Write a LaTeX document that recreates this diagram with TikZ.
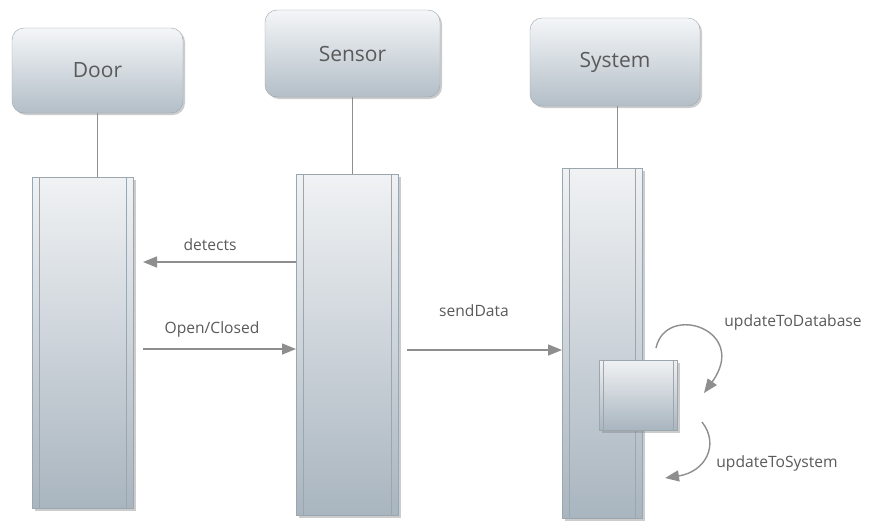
\documentclass[tikz,border=0pt]{standalone}
\usepackage{fontspec}
\setmainfont{Open Sans}
\usetikzlibrary{arrows.meta,shadows}
\definecolor{boxedge}{HTML}{9BA6AE}
\definecolor{boxtop}{HTML}{F4F6F8}
\definecolor{boxbottom}{HTML}{B3BEC7}
\definecolor{bartop}{HTML}{F0F2F4}
\definecolor{barbottom}{HTML}{A9B5BF}
\definecolor{linegray}{HTML}{8E8E8E}
\definecolor{txtgray}{HTML}{5A5A5A}
\begin{document}
\begin{tikzpicture}[x=1pt,y=-1pt,
    head/.style={draw=boxedge, rounded corners=12pt, outer sep=0pt,
        top color=boxtop, bottom color=boxbottom,
        drop shadow={shadow xshift=2pt, shadow yshift=-2pt, opacity=0.4},
        text=txtgray, font=\fontsize{21}{24}\selectfont},
    bar/.style={draw=boxedge, outer sep=0pt, inner sep=0pt,
        top color=bartop, bottom color=barbottom,
        drop shadow={shadow xshift=3pt, shadow yshift=-3pt, opacity=0.4},
        path picture={\draw[boxedge, line width=0.8pt]
            ([xshift=#1]path picture bounding box.north west) -- ([xshift=#1]path picture bounding box.south west)
            ([xshift=-#1]path picture bounding box.north east) -- ([xshift=-#1]path picture bounding box.south east);}},
    bar/.default=7pt,
    life/.style={draw=linegray, line width=0.9pt},
    msg/.style={draw=linegray, line width=1.4pt, -{Triangle[length=14pt,width=11pt]}},
    lbl/.style={text=txtgray, font=\fontsize{15.6}{18}\selectfont}]
    \useasboundingbox[fill=white] (0,0) rectangle (874,523);
    %% heads
    \node[head, minimum width=171pt, minimum height=85pt] (door) at (97.5,70.5) {Door};
    \node[head, minimum width=175pt, minimum height=87pt] (sensor) at (352.5,53.5) {Sensor};
    \node[head, minimum width=170pt, minimum height=88pt] (system) at (615,62) {System};
    %% activation bars
    \node[bar, minimum width=101pt, minimum height=331pt] (doorbar) at (82.5,342.5) {};
    \node[bar, minimum width=102pt, minimum height=341pt] (sensorbar) at (347,344.5) {};
    \node[bar, minimum width=80pt, minimum height=350pt] (systembar) at (602,343) {};
    \node[bar=4pt, minimum width=78pt, minimum height=70pt] (update) at (638,395) {};
    %% lifelines
    \draw[life] (door.south) -- (door.south |- doorbar.north);
    \draw[life] (sensor.south) -- (sensor.south |- sensorbar.north);
    \draw[life] ([xshift=2pt]system.south) -- ([xshift=2pt]system.south |- systembar.north);
    %% messages
    \coordinate (detectsend) at (143,262);
    \draw[msg] (sensorbar.west |- detectsend) -- (detectsend);
    \node[lbl] (detectslbl) at (210,245) {detects};
    \coordinate (openstart) at (143,349);
    \draw[msg] (openstart) -- (sensorbar.west |- openstart);
    \node[lbl] (openlbl) at (212,329) {Open/Closed};
    \coordinate (sendstart) at (407,350);
    \draw[msg] (sendstart) -- (systembar.west |- sendstart);
    \node[lbl] (sendlbl) at (474,311) {sendData};
    %% self calls
    \coordinate (dbstart) at (656,348);
    \coordinate (dbend) at (704,393);
    \draw[msg] (dbstart) .. controls (666,302) and (750,330) .. (dbend);
    \node[lbl] (dblbl) at (793,322) {updateToDatabase};
    \coordinate (sysstart) at (702,422);
    \coordinate (sysend) at (665,478);
    \draw[msg] (sysstart) .. controls (720,445) and (705,472) .. (sysend);
    \node[lbl] (syslbl) at (777,463) {updateToSystem};
\end{tikzpicture}
\end{document}
